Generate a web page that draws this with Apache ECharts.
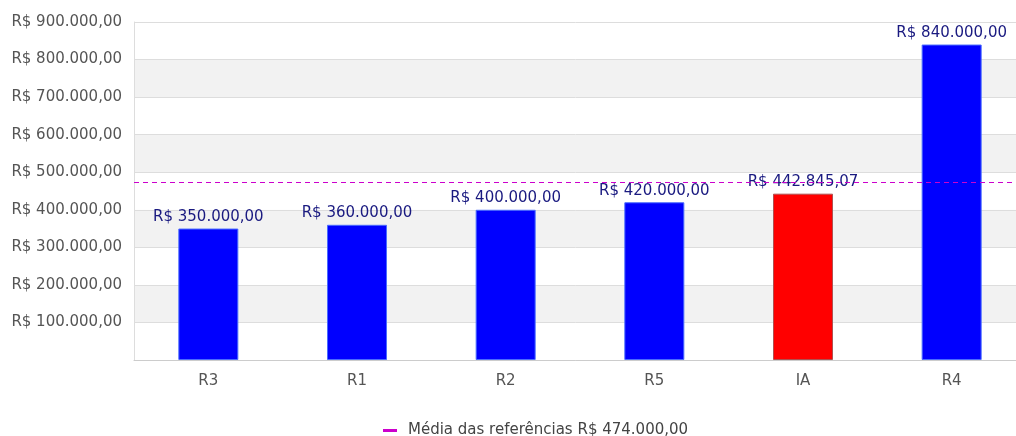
<!DOCTYPE html>
<html>
<head>
<meta charset="utf-8">
<script src="https://cdn.jsdelivr.net/npm/echarts@6/dist/echarts.min.js"></script>
<style>
  html, body { margin: 0; padding: 0; background: #fff; }
  #chart { width: 1016px; height: 436px; }
</style>
</head>
<body>
<div id="chart"></div>
<script>
// dados do gráfico
const categorias = ['R3', 'R1', 'R2', 'R5', 'IA', 'R4'];
const valores = [350000, 360000, 400000, 420000, 442845.07, 840000];
const cores = ['#0000ff', '#0000ff', '#0000ff', '#0000ff', '#ff0000', '#0000ff'];
const media = 474000;
const nomeMedia = 'Média das referências';

const fonte = 'DejaVu Sans';
const tam = 15;

// formata no padrão R$ 1.234,56
const moeda = (v) => {
  let partes = Number(v).toFixed(2).split('.');
  let inteiro = partes[0].replace(/\B(?=(\d{3})+(?!\d))/g, '.');
  return 'R$ ' + inteiro + ',' + partes[1];
};

const chart = echarts.init(document.getElementById('chart'));

const option = {
  backgroundColor: '#fff',
  animation: false,
  textStyle: { fontFamily: fonte },
  grid: { left: 134, right: -10, top: 22, bottom: 76, outerBoundsMode: 'none', containLabel: false },
  legend: {
    top: 418,
    left: 378,
    icon: 'rect',
    itemWidth: 14,
    itemHeight: 3,
    itemGap: 10,
    textStyle: { color: '#444', fontSize: tam, fontFamily: fonte, padding: [0, 0, 0, 6] },
    data: [nomeMedia + ' ' + moeda(media)]
  },
  xAxis: {
    type: 'category',
    data: categorias,
    axisLine: { lineStyle: { color: '#ccc' } },
    axisTick: { show: false },
    axisLabel: { color: '#555', fontSize: tam, fontFamily: fonte, margin: 14 }
  },
  yAxis: {
    type: 'value',
    min: 0,
    max: 900000,
    interval: 100000,
    axisLine: { show: true, lineStyle: { color: '#ddd' } },
    axisTick: { show: false },
    axisLabel: {
      color: '#555',
      fontSize: tam,
      fontFamily: fonte,
      margin: 12,
      formatter: (v) => v === 0 ? '' : moeda(v)
    },
    splitLine: { show: true, lineStyle: { color: '#ddd' } },
    splitArea: { show: true, areaStyle: { color: ['#ffffff', '#f2f2f2'] } }
  },
  series: [
    {
      type: 'bar',
      barWidth: 60,
      data: valores.map((v, i) => ({
        value: v,
        itemStyle: {
          color: cores[i],
          borderColor: i === 4 ? '#b05050' : '#4a6cff',
          borderWidth: 1
        }
      })),
      label: {
        show: true,
        position: 'top',
        distance: 4,
        color: '#1a1a80',
        fontSize: tam,
        fontFamily: fonte,
        formatter: (p) => moeda(p.value)
      },
      z: 2
    },
    {
      name: nomeMedia + ' ' + moeda(media),
      type: 'line',
      data: [],
      itemStyle: { color: '#cc00cc' },
      lineStyle: { color: '#cc00cc' },
      markLine: {
        silent: true,
        symbol: ['none', 'none'],
        label: { show: false },
        lineStyle: { color: '#cc00cc', type: [5, 4], width: 1 },
        data: [{ yAxis: media }]
      },
      z: 5
    }
  ]
};

chart.setOption(option);
</script>
</body>
</html>
